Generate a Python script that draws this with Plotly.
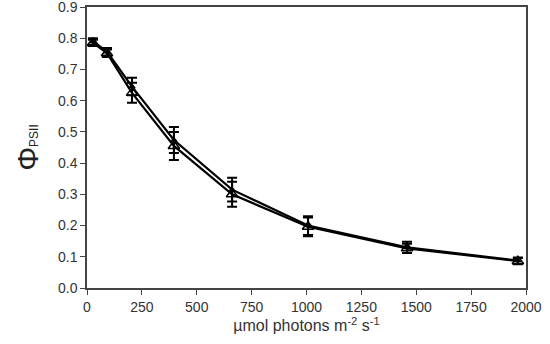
import plotly.graph_objects as go

light = [27, 91, 205, 396, 661, 1007, 1458, 1963]
phi_a = [0.790, 0.757, 0.645, 0.474, 0.315, 0.200, 0.130, 0.088]
err_a = [0.010, 0.012, 0.028, 0.042, 0.038, 0.030, 0.018, 0.010]
phi_b = [0.785, 0.752, 0.625, 0.455, 0.300, 0.196, 0.127, 0.086]
err_b = [0.010, 0.012, 0.032, 0.045, 0.040, 0.030, 0.015, 0.010]

x_ticks = [0, 250, 500, 750, 1000, 1250, 1500, 1750, 2000]
y_ticks = [0.0, 0.1, 0.2, 0.3, 0.4, 0.5, 0.6, 0.7, 0.8, 0.9]

fig = go.Figure()
fig.add_trace(go.Scatter(
    x=light, y=phi_b, mode="lines+markers",
    line=dict(color="black", width=2.2),
    marker=dict(symbol="triangle-up-open", size=10, color="black", line=dict(width=1.5)),
    error_y=dict(type="data", array=err_b, color="black", thickness=2, width=5),
    showlegend=False))
fig.add_trace(go.Scatter(
    x=light, y=phi_a, mode="lines+markers",
    line=dict(color="black", width=2.2),
    marker=dict(symbol="triangle-up", size=7, color="black"),
    error_y=dict(type="data", array=err_a, color="black", thickness=2, width=5),
    showlegend=False))

fig.update_layout(
    width=550, height=344,
    margin=dict(l=87, r=24, t=7, b=56),
    paper_bgcolor="white", plot_bgcolor="white",
    font=dict(family="Liberation Sans, Arial, sans-serif", size=14, color="#333"),
    xaxis=dict(range=[0, 2000], tickvals=x_ticks, ticktext=[str(v) for v in x_ticks],
               automargin=False, ticklabeloverflow="allow",
               showgrid=False, zeroline=False, showline=True, linecolor="#444", linewidth=1.5,
               mirror=True, ticks="outside", ticklen=5, tickcolor="#444",
               title=dict(text="µmol photons m<sup>-2</sup> s<sup>-1</sup>", standoff=6,
                          font=dict(size=16))),
    yaxis=dict(range=[0, 0.9], tickvals=y_ticks, ticktext=["%.1f" % v for v in y_ticks],
               automargin=False, ticklabeloverflow="allow",
               showgrid=False, zeroline=False, showline=True, linecolor="#444", linewidth=1.5,
               mirror=True, ticks="outside", ticklen=5, tickcolor="#444",
               title=dict(text="Φ<span style='font-size:12px'>PSII</span>", standoff=10,
                          font=dict(size=30, color="#222"))),
)

fig.write_html("out.html")
